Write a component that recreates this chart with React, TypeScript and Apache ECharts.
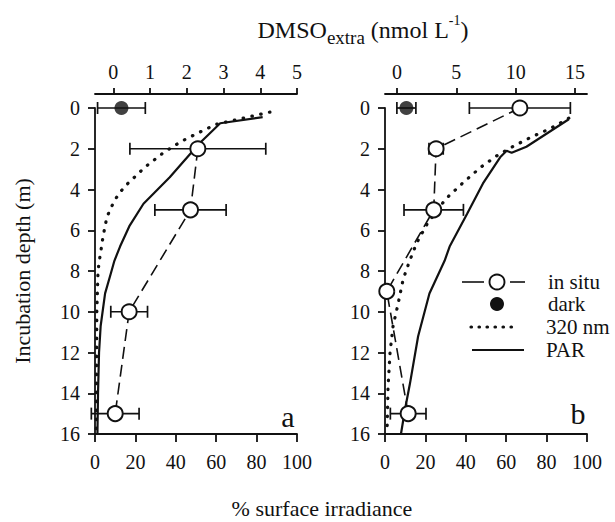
import React, { useEffect, useRef } from 'react';
import * as echarts from 'echarts';

// ---- tick values ----
const depthTicks = [0, 2, 4, 6, 8, 10, 12, 14, 16];
const irradianceTicks = [0, 20, 40, 60, 80, 100];
const dmsoTicksA = [0, 1, 2, 3, 4, 5];
const dmsoTicksB = [0, 5, 10, 15];

// ---- panel a: DMSOextra ----
const inSituDepthA = [2, 5, 10, 15];
const inSituA = [2.3, 2.1, 0.43, 0.05];
const inSituErrA = [1.85, 0.97, 0.5, 0.65];
const darkDepthA = [0];
const darkA = [0.22];
const darkErrA = [0.65];

// ---- panel b: DMSOextra ----
const inSituDepthB = [0, 2, 5, 9, 15];
const inSituB = [10.35, 3.3, 3.1, -0.85, 0.95];
const inSituErrB = [4.25, 0.6, 2.5, 0, 1.5];
const darkDepthB = [0];
const darkB = [0.8];
const darkErrB = [0.8];

// ---- panel a: light profiles (% surface irradiance) ----
const parDepthA = [0.45, 0.75, 1.8, 2.1, 3.4, 4.7, 5.8, 6.8, 7.5, 8.1, 9.1, 10.7, 12, 14, 16];
const parA = [83, 62, 51, 48.5, 37, 24, 17, 12.4, 9.6, 7.9, 5, 2.8, 2, 1.5, 1.2];
const uvDepthA = [0.2, 0.8, 1.2, 1.65, 2.2, 2.9, 3.7, 4.1, 4.5, 4.9, 5.35, 6.3, 7.6, 8, 10, 16];
const uvA = [86.6, 60, 51.5, 42.5, 33.8, 24.8, 16.3, 12.7, 9.9, 7.9, 5.9, 4, 2, 1.5, 0.9, 0.6];

// ---- panel b: light profiles ----
const parDepthB = [0.55, 1.9, 2.2, 2.1, 2.42, 3.7, 5.2, 6.8, 7.5, 9.1, 11.2, 13.5, 14.8, 16];
const parB = [91, 70, 62.7, 60.2, 57, 48.5, 40.6, 32, 29.5, 22, 16.4, 12.4, 9.9, 7.9];
const uvDepthB = [0.5, 1.0, 1.4, 1.8, 2.3, 2.9, 3.67, 4.47, 5.7, 6.6, 7.55, 8.4, 9.6, 10.7, 12, 13.7, 16];
const uvB = [91, 82, 73, 65, 56, 47.5, 38.6, 30, 20.8, 15.8, 12, 9, 6.5, 4, 2.5, 1.5, 1];

const FONT = 'Times New Roman, Liberation Serif, serif';
const INK = '#111111';

const pairs = (xs: number[], ys: number[]) => xs.map((x, i) => [x, ys[i]]);
const errData = (xs: number[], ys: number[], es: number[]) =>
  xs.map((x, i) => [x, ys[i], es[i]]).filter((d) => d[2] > 0);

const errorRender = (params: any, api: any) => {
  const x = api.value(0);
  const y = api.value(1);
  const e = api.value(2);
  const l = api.coord([x - e, y]);
  const r = api.coord([x + e, y]);
  const st = { stroke: INK, lineWidth: 1.7 };
  const cap = 6;
  return {
    type: 'group',
    children: [
      { type: 'line', shape: { x1: l[0], y1: l[1], x2: r[0], y2: r[1] }, style: st },
      { type: 'line', shape: { x1: l[0], y1: l[1] - cap, x2: l[0], y2: l[1] + cap }, style: st },
      { type: 'line', shape: { x1: r[0], y1: r[1] - cap, x2: r[0], y2: r[1] + cap }, style: st },
    ],
  };
};

const axisCommon = {
  axisLine: { show: true, onZero: false, lineStyle: { color: INK, width: 1.8 } },
  axisTick: { show: true, inside: false, length: 7, lineStyle: { color: INK, width: 1.8 } },
  splitLine: { show: false },
  axisLabel: { color: INK, fontFamily: FONT, fontSize: 20 },
};

const bottomAxis = (gridIndex: number) => ({
  ...axisCommon,
  gridIndex,
  type: 'value',
  position: 'bottom',
  min: 0,
  max: 100,
  interval: 20,
  axisTick: { ...axisCommon.axisTick, length: 8 },
  axisLabel: { ...axisCommon.axisLabel, margin: 18, customValues: irradianceTicks },
});

const topAxis = (gridIndex: number, min: number, max: number, ticks: number[]) => ({
  ...axisCommon,
  gridIndex,
  type: 'value',
  position: 'top',
  offset: 14,
  min,
  max,
  axisTick: { ...axisCommon.axisTick, length: 6, customValues: ticks },
  axisLabel: { ...axisCommon.axisLabel, margin: 12, customValues: ticks },
});

const depthAxis = (gridIndex: number) => ({
  ...axisCommon,
  gridIndex,
  type: 'value',
  inverse: true,
  min: 0,
  max: 16,
  interval: 2,
  axisLabel: { ...axisCommon.axisLabel, margin: 15, customValues: depthTicks },
});

const profileSeries = (xIdx: number, yIdx: number, depths: number[], vals: number[], dotted: boolean) => ({
  type: 'line',
  xAxisIndex: xIdx,
  yAxisIndex: yIdx,
  data: pairs(vals, depths),
  showSymbol: false,
  symbol: 'none',
  z: 2,
  lineStyle: dotted
    ? { color: INK, width: 3.2, type: [0.5, 8.5], cap: 'round' }
    : { color: INK, width: 2.2 },
});

const inSituSeries = (xIdx: number, yIdx: number, depths: number[], vals: number[]) => ({
  type: 'line',
  xAxisIndex: xIdx,
  yAxisIndex: yIdx,
  data: pairs(vals, depths),
  symbol: 'circle',
  symbolSize: 15,
  z: 4,
  lineStyle: { color: INK, width: 1.6, type: [12, 6] },
  itemStyle: { color: '#ffffff', borderColor: INK, borderWidth: 1.9 },
});

const darkSeries = (xIdx: number, yIdx: number, depths: number[], vals: number[]) => ({
  type: 'scatter',
  xAxisIndex: xIdx,
  yAxisIndex: yIdx,
  data: pairs(vals, depths),
  symbol: 'circle',
  symbolSize: 14,
  z: 4,
  itemStyle: { color: INK },
});

const errSeries = (xIdx: number, yIdx: number, data: number[][]) => ({
  type: 'custom',
  xAxisIndex: xIdx,
  yAxisIndex: yIdx,
  data,
  encode: { x: 0, y: 1 },
  renderItem: errorRender,
  z: 1,
});

export default function App() {
  const ref = useRef<HTMLDivElement>(null);

  useEffect(() => {
    if (!ref.current) return;
    const chart = echarts.init(ref.current, undefined, { renderer: 'svg' });
    const txt = (text: string, x: number, y: number, fontSize: number, extra: any = {}) => ({
      type: 'text',
      x,
      y,
      style: {
        text,
        fill: INK,
        fontFamily: FONT,
        fontSize,
        align: 'center',
        verticalAlign: 'middle',
        ...extra,
      },
    });
    const legY = [282, 304, 327, 350];
    const option: any = {
      animation: false,
      backgroundColor: '#ffffff',
      textStyle: { fontFamily: FONT },
      grid: [
        { left: 95, top: 108, width: 202, height: 326, outerBoundsMode: 'none', containLabel: false },
        { left: 385, top: 108, width: 202, height: 326, outerBoundsMode: 'none', containLabel: false },
      ],
      xAxis: [bottomAxis(0), topAxis(0, -0.5, 5, dmsoTicksA), bottomAxis(1), topAxis(1, -1, 16, dmsoTicksB)],
      yAxis: [depthAxis(0), depthAxis(1)],
      series: [
        errSeries(1, 0, [...errData(inSituA, inSituDepthA, inSituErrA), ...errData(darkA, darkDepthA, darkErrA)]),
        profileSeries(0, 0, parDepthA, parA, false),
        profileSeries(0, 0, uvDepthA, uvA, true),
        inSituSeries(1, 0, inSituDepthA, inSituA),
        darkSeries(1, 0, darkDepthA, darkA),
        errSeries(3, 1, [...errData(inSituB, inSituDepthB, inSituErrB), ...errData(darkB, darkDepthB, darkErrB)]),
        profileSeries(2, 1, parDepthB, parB, false),
        profileSeries(2, 1, uvDepthB, uvB, true),
        inSituSeries(3, 1, inSituDepthB, inSituB),
        darkSeries(3, 1, darkDepthB, darkB),
      ],
      graphic: [
        {
          type: 'text',
          x: 363,
          y: 30,
          style: {
            text: '{m|DMSO}{s|extra}{m| (nmol L}{p|-1}{m|)}',
            fill: INK,
            fontFamily: FONT,
            align: 'center',
            verticalAlign: 'middle',
            rich: {
              m: { fontFamily: FONT, fontSize: 24, lineHeight: 34, fill: INK },
              s: { fontFamily: FONT, fontSize: 19, lineHeight: 18, verticalAlign: 'bottom', fill: INK },
              p: { fontFamily: FONT, fontSize: 14, lineHeight: 16, verticalAlign: 'top', fill: INK },
            },
          },
        },
        txt('% surface irradiance', 322, 508, 22),
        {
          type: 'text',
          x: 22,
          y: 271,
          rotation: Math.PI / 2,
          style: {
            text: 'Incubation depth (m)',
            fill: INK,
            fontFamily: FONT,
            fontSize: 22,
            align: 'center',
            verticalAlign: 'middle',
          },
        },
        txt('a', 288, 416, 30),
        txt('b', 578, 413, 30),
        // legend
        { type: 'line', shape: { x1: 462, y1: legY[0], x2: 484, y2: legY[0] }, style: { stroke: INK, lineWidth: 1.6 } },
        { type: 'line', shape: { x1: 510, y1: legY[0], x2: 525, y2: legY[0] }, style: { stroke: INK, lineWidth: 1.6 } },
        { type: 'circle', shape: { cx: 497, cy: legY[0], r: 7.5 }, style: { fill: '#fff', stroke: INK, lineWidth: 1.9 } },
        { type: 'circle', shape: { cx: 497, cy: legY[1], r: 7 }, style: { fill: INK } },
        {
          type: 'line',
          shape: { x1: 471, y1: legY[2], x2: 512, y2: legY[2] },
          style: { stroke: INK, lineWidth: 3.2, lineDash: [0.5, 7.5], lineCap: 'round' },
        },
        { type: 'line', shape: { x1: 472, y1: legY[3], x2: 524, y2: legY[3] }, style: { stroke: INK, lineWidth: 2.2 } },
        txt('in situ', 548, legY[0], 21, { align: 'left' }),
        txt('dark', 548, legY[1], 21, { align: 'left' }),
        txt('320 nm', 546, legY[2], 21, { align: 'left' }),
        txt('PAR', 546, legY[3], 21, { align: 'left' }),
      ],
    };
    chart.setOption(option);
    return () => chart.dispose();
  }, []);

  return <div ref={ref} style={{ position: 'fixed', left: 0, top: 0, width: 615, height: 522, background: '#fff' }} />;
}
